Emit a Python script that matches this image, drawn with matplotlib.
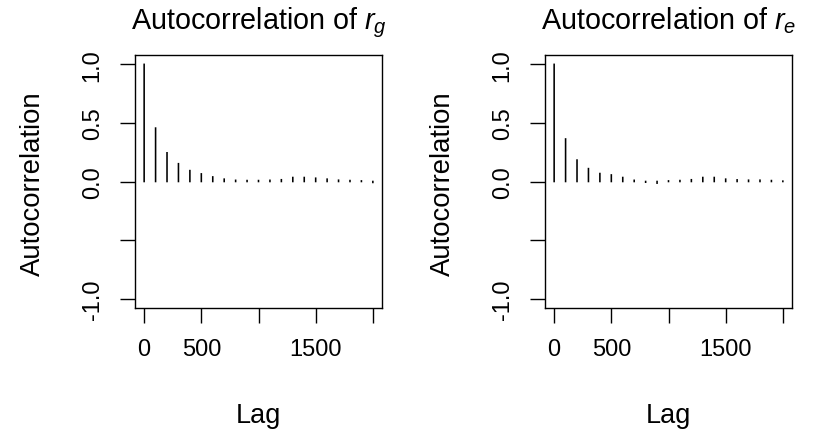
import matplotlib
matplotlib.use("Agg")
import matplotlib.pyplot as plt

plt.rcParams["font.family"] = ["Liberation Sans", "DejaVu Sans"]
plt.rcParams["mathtext.fontset"] = "custom"
plt.rcParams["mathtext.rm"] = "Liberation Sans"
plt.rcParams["mathtext.it"] = "Liberation Sans:italic"

# Lags of the thinned chain and their autocorrelations
lags = [0, 100, 200, 300, 400, 500, 600, 700, 800, 900, 1000,
        1100, 1200, 1300, 1400, 1500, 1600, 1700, 1800, 1900, 2000]
acf_rg = [1.0, 0.456, 0.245, 0.152, 0.093, 0.065, 0.039, 0.020, 0.010, 0.008, 0.008,
          0.010, 0.015, 0.034, 0.034, 0.028, 0.020, 0.011, 0.008, 0.005, -0.008]
acf_re = [1.0, 0.363, 0.183, 0.110, 0.068, 0.056, 0.034, 0.010, -0.006, -0.014, 0.005,
          0.008, 0.015, 0.034, 0.034, 0.020, 0.014, 0.011, 0.011, 0.008, 0.003]

titles = [r"Autocorrelation of $r_g$", r"Autocorrelation of $r_e$"]
series = [acf_rg, acf_re]

x_ticks = [0, 500, 1000, 1500, 2000]
x_ticklabels = ["0", "500", "", "1500", ""]
y_ticks = [-1.0, -0.5, 0.0, 0.5, 1.0]
y_ticklabels = ["-1.0", "", "0.0", "0.5", "1.0"]

W, H = 814, 435
fig = plt.figure(figsize=(W / 100, H / 100), dpi=100)


def px(x, y):
    return x / W, 1 - y / H


box_left = [135, 545]
box_w = 247
box_top, box_bot = 56, 309

for i in range(2):
    l = box_left[i]
    ax = fig.add_axes([l / W, 1 - box_bot / H, box_w / W, (box_bot - box_top) / H])
    # one vertical spike per lag; projecting caps keep near-zero values visible
    for lag, r in zip(lags, series[i]):
        ax.plot([lag, lag], [0, r], color="black", linewidth=1.15,
                solid_capstyle="projecting", snap=False)
    ax.set_xlim(-80, 2080)
    ax.set_ylim(-1.08, 1.08)
    ax.set_xticks(x_ticks)
    ax.set_xticklabels(x_ticklabels)
    ax.set_yticks(y_ticks)
    ax.set_yticklabels(y_ticklabels, rotation=90, va="center")
    ax.tick_params(axis="both", direction="out", length=10.5, width=1.0,
                   labelsize=17, colors="black")
    ax.tick_params(axis="x", pad=11)
    ax.tick_params(axis="y", pad=12)
    for s in ax.spines.values():
        s.set_linewidth(1.0)
        s.set_color("black")

    cx = l + box_w / 2
    fig.text(*px(cx, 29), titles[i], ha="center", va="baseline", fontsize=20.7)
    fig.text(*px(cx, 423), "Lag", ha="center", va="baseline", fontsize=19.5)
    fig.text(*px(l - 102, 184), "Autocorrelation", ha="center", va="center",
             rotation=90, fontsize=19.8)

fig.savefig("out.png", dpi=100)
